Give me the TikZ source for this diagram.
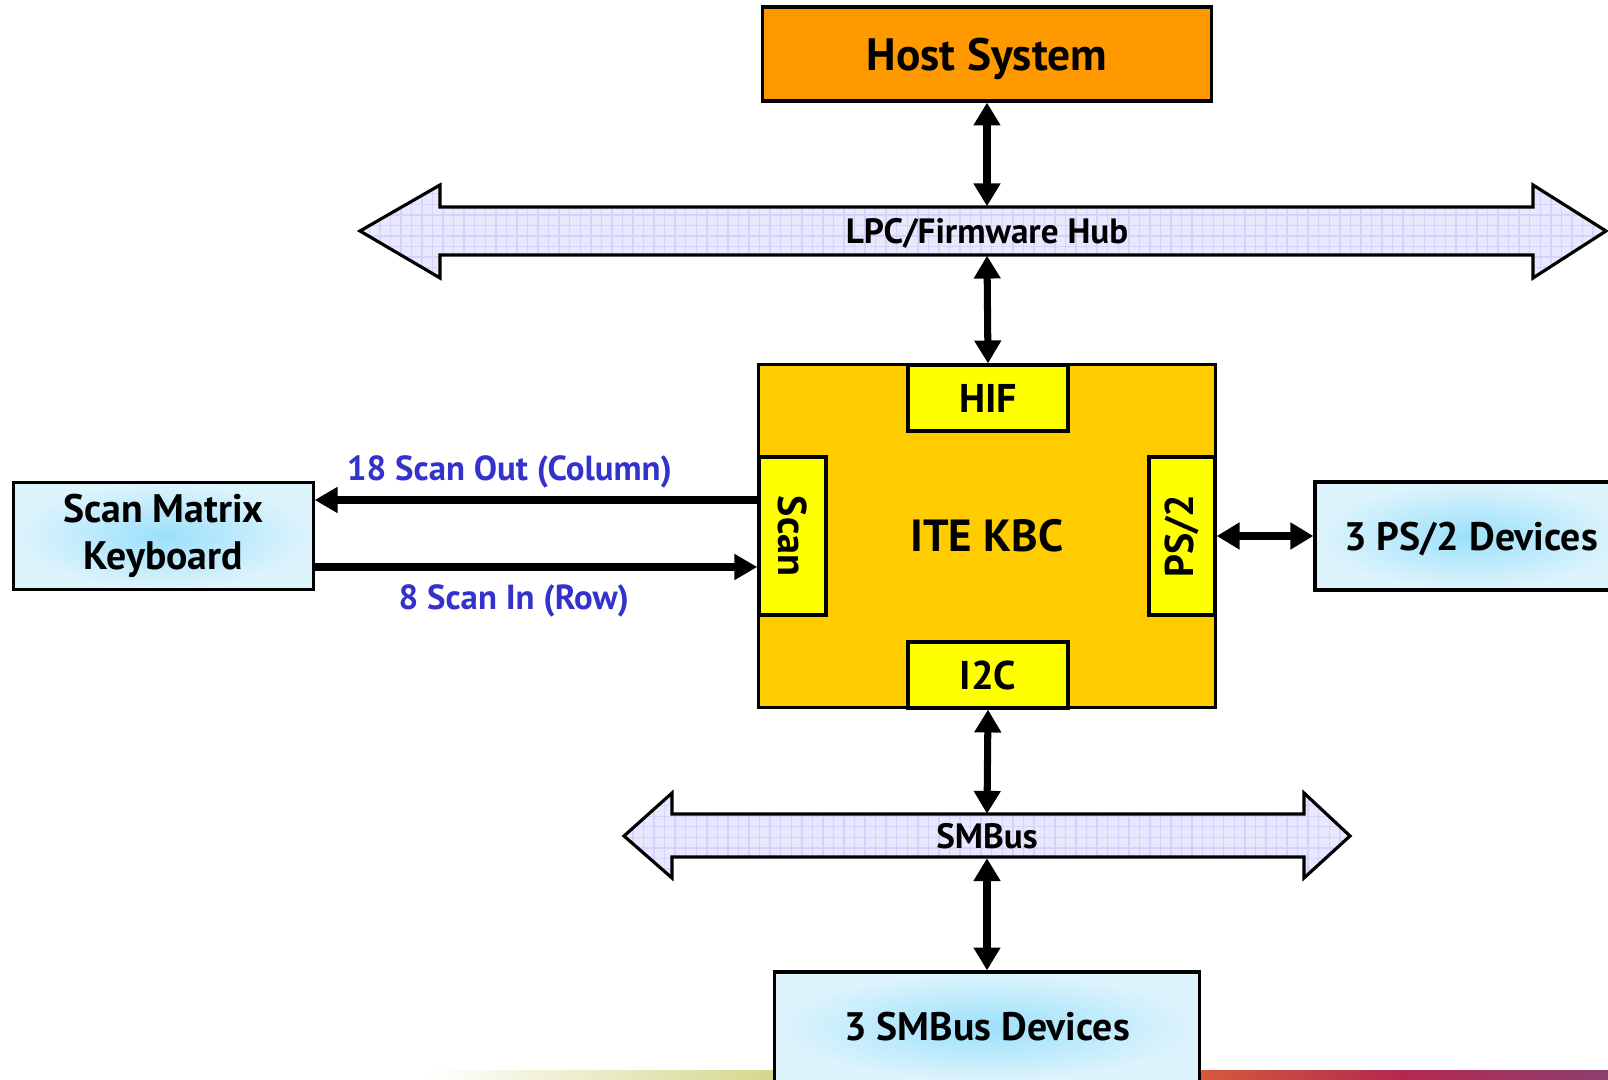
\documentclass[tikz,border=0pt]{standalone}
\usepackage{fontspec}
\setmainfont{PT Sans}
\usepackage{xcolor}
\usepackage{tikz}
\usetikzlibrary{calc, patterns, arrows.meta}

\definecolor{hostorange}{RGB}{255,153,0}
\definecolor{kbcgold}{RGB}{255,204,0}
\definecolor{portyellow}{RGB}{255,255,0}
\definecolor{busfill}{RGB}{232,232,255}
\definecolor{busgrid}{RGB}{212,212,250}
\definecolor{devcenter}{RGB}{155,224,250}
\definecolor{devedge}{RGB}{222,244,253}
\definecolor{labelblue}{RGB}{51,51,204}
\definecolor{stripolive}{RGB}{212,216,140}
\definecolor{stripred}{RGB}{214,90,58}
\definecolor{stripcrimson}{RGB}{180,40,80}
\definecolor{strippurple}{RGB}{140,64,112}

\tikzset{
    block/.style = {draw, line width = 0.9pt, inner sep = 0pt, align = center},
    port/.style = {block, fill = portyellow, font = \bfseries\fontsize{11.4}{13}\selectfont},
    device/.style = {block, shade, inner color = devcenter, outer color = devedge, font = \bfseries\fontsize{11.3}{13.2}\selectfont},
    bus/.style = {draw, line width = 0.9pt, preaction = {fill = busfill}, pattern = grid, pattern color = busgrid},
    buslabel/.style = {inner sep = 0pt, text depth = 0pt, font = \bfseries\fontsize{10}{12}\selectfont},
    link/.style = {line width = 2pt, {Triangle[length = 6.5pt, width = 7.3pt]}-{Triangle[length = 6.5pt, width = 7.3pt]}},
    wire/.style = {line width = 2.1pt, -{Triangle[length = 6.5pt, width = 7pt]}},
    wirelabel/.style = {text = labelblue, font = \bfseries\fontsize{9.9}{11}\selectfont}
}

\begin{document}
\begin{tikzpicture}[x = 0.01cm, y = -0.01cm]
    \useasboundingbox (0, 0) rectangle (1608, 1080);
    \clip (0, 0) rectangle (1608, 1080);
    
    % Bottom strip
    \shade[left color = white, right color = stripolive] (425, 1071) rectangle (775, 1080);
    %
    \shade[left color = stripred, right color = strippurple, middle color = stripcrimson] (1199, 1071) rectangle (1608, 1080);
    
    % Buses
    \draw[bus] (360, 231) -- (440, 185) -- (440, 207) -- (1533, 207) -- (1533, 185) -- (1606, 231) -- (1533, 278) -- (1533, 255) -- (440, 255) -- (440, 278) -- cycle;
    %
    \draw[bus] (624, 836) -- (672, 793) -- (672, 814) -- (1304, 814) -- (1304, 793) -- (1350, 836) -- (1304, 878) -- (1304, 857) -- (672, 857) -- (672, 878) -- cycle;
    
    \node[buslabel, minimum height = 0.48cm] (lpc) at (987, 231) {LPC/Firmware Hub};
    %
    \node[buslabel, minimum height = 0.43cm] (smbus) at (987, 836) {SMBus};
    
    % Blocks
    \node[block, fill = hostorange, minimum width = 4.49cm, minimum height = 0.94cm, text depth = 0pt, font = \bfseries\fontsize{12.9}{15}\selectfont] (host) at (987, 54) {Host System};
    
    \node[block, fill = kbcgold, minimum width = 4.56cm, minimum height = 3.42cm, font = \bfseries\fontsize{12.8}{15}\selectfont] (kbc) at (987, 536) {ITE KBC};
    %
    \node[port, minimum width = 1.60cm, minimum height = 0.66cm] (hif) at (988, 398) {HIF};
    %
    \node[port, minimum width = 1.60cm, minimum height = 0.66cm] (i2c) at (988, 675) {I2C};
    %
    \node[port, minimum width = 0.67cm, minimum height = 1.58cm] (scan) at (792.5, 536) {\rotatebox{-90}{Scan}};
    %
    \node[port, minimum width = 0.66cm, minimum height = 1.58cm] (ps2) at (1182, 536) {\rotatebox{90}{PS/2}};
    
    \node[device, minimum width = 2.99cm, minimum height = 1.07cm] (kbd) at (163.5, 536) {\raisebox{-0.1cm}{Scan Matrix}\\\raisebox{-0.1cm}{Keyboard}};
    %
    \node[device, minimum width = 3.12cm, minimum height = 1.08cm, text depth = 0pt] (ps2dev) at (1471, 536) {3 PS/2 Devices};
    %
    \node[device, minimum width = 4.24cm, minimum height = 1.10cm] (smbdev) at (987, 1027) {3 SMBus Devices};
    
    % Connections
    \draw[link] (host.south) -- (lpc.north);
    %
    \draw[link] (lpc.south) -- (hif.north);
    %
    \draw[link] (i2c.south) -- (smbus.north);
    %
    \draw[link] (smbus.south) -- (smbdev.north);
    %
    \draw[link] (kbc.east) -- (ps2dev.west);
    
    \draw[wire] ($(kbc.west) + (0, -36)$) -- ($(kbd.east) + (0, -36)$) node[wirelabel, pos = 0.56, above, yshift = -0.04cm] {18 Scan Out (Column)};
    %
    \draw[wire] ($(kbd.east) + (0, 31)$) -- ($(kbc.west) + (0, 31)$) node[wirelabel, pos = 0.45, below, yshift = -0.02cm] {8 Scan In (Row)};
\end{tikzpicture}
\end{document}
